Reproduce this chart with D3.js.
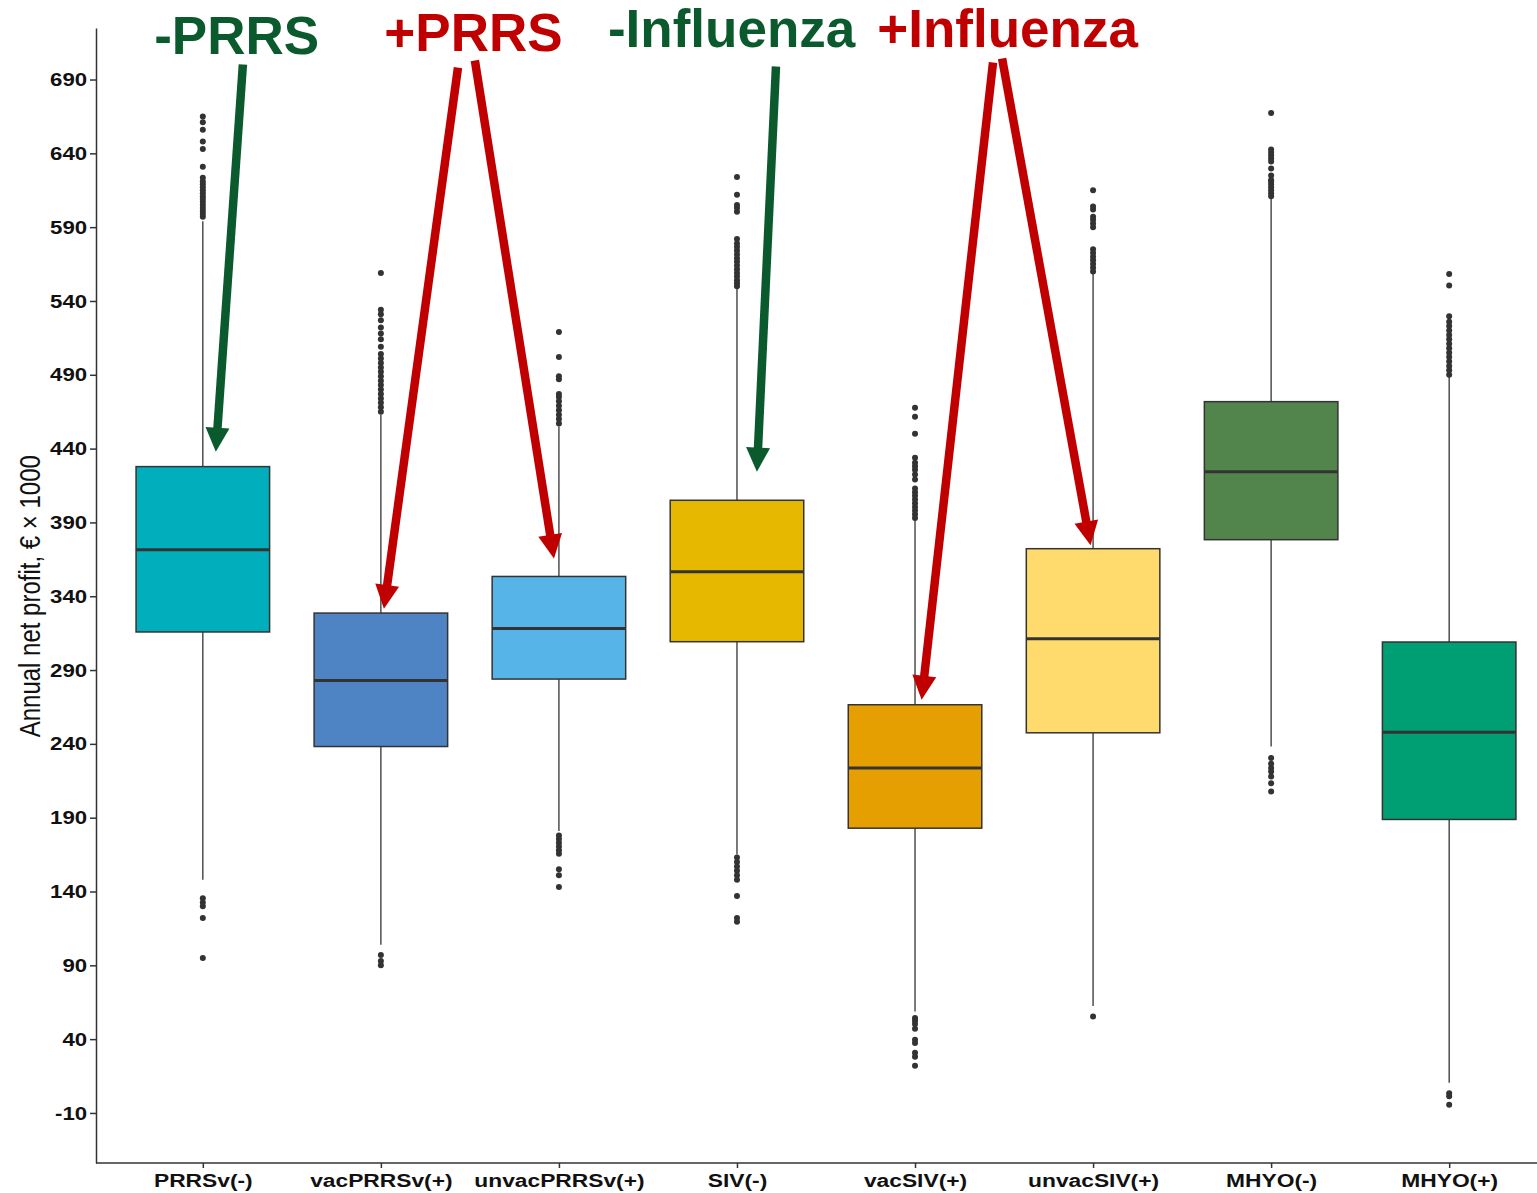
<!DOCTYPE html>
<html>
<head>
<meta charset="utf-8">
<script src="https://cdn.jsdelivr.net/npm/d3@7"></script>
<style>
  body { margin: 0; background: #fff; }
  text { font-family: "Liberation Sans", Arial, Helvetica, sans-serif; }
</style>
</head>
<body>
<div id="chart"></div>
<script>
// categories and box statistics (values in € x 1000)
const categories = ["PRRSv(-)", "vacPRRSv(+)", "unvacPRRSv(+)", "SIV(-)", "vacSIV(+)", "unvacSIV(+)", "MHYO(-)", "MHYO(+)"];
const fills = ["#00AFBB", "#4E84C4", "#56B4E9", "#E7B800", "#E69F00", "#FFDB6D", "#52854C", "#009E73"];
const q1 = [315.8, 238.2, 283.9, 309.2, 182.9, 247.5, 378.3, 188.8];
const medians = [371.5, 283.0, 318.2, 356.6, 223.6, 311.2, 424.4, 247.8];
const q3 = [427.8, 328.6, 353.4, 405.0, 266.5, 372.2, 471.8, 309.0];
const whiskerLow = [148, 104, 181, 165, 58.7, 62.5, 238.2, 10.5];
const whiskerHigh = [594, 463, 455, 549, 392, 559, 610, 489];
const outliers = [
  [597, 599, 601, 603, 605, 607, 609, 611, 613, 615, 617, 619, 621, 623.5, 631, 643, 648, 656, 661, 665, 135.5, 132.5, 130, 122, 95],
  [465, 468, 471, 474, 477, 480, 483, 486, 489, 492, 495, 498, 501, 504, 509, 514, 518, 522, 527, 531, 534, 559, 97, 93, 90],
  [457, 460, 463, 466, 469, 472, 475, 477, 487, 489, 502, 519, 178, 175.5, 173, 170.5, 168, 165.5, 155, 151, 143],
  [550, 552, 554, 556.5, 559, 561.5, 564, 566.5, 569, 571.5, 574, 576.5, 579, 582, 600.5, 603, 605, 612, 624, 163, 160, 157, 154, 151, 148, 137, 122, 119.5],
  [393, 395.5, 398, 400.5, 403, 405.5, 408, 410.5, 413, 419, 422.5, 425.7, 428, 430.5, 433.8, 450, 461.6, 467.7, 54.4, 52.5, 50.3, 47, 39.5, 37.4, 30.7, 28, 22],
  [560, 562.5, 565, 567.5, 570, 572.5, 575, 590, 592.5, 595, 597, 602, 604, 615, 55.3],
  [611, 613, 615, 617, 619, 621, 622, 625, 629.7, 634.4, 636.5, 638.5, 640.5, 642.6, 667.4, 230.4, 226.5, 223.6, 221.3, 217.9, 213.4, 207.7],
  [490, 493, 496, 499, 502, 505, 508, 511, 514, 517, 520, 523, 526, 529.6, 550.4, 558.3, 3.3, 1.3, -4.5]
];
const yTicks = d3.range(-10, 691, 50);

// annotations: position as (category index, value)
const labelTexts = ["-PRRS", "+PRRS", "-Influenza", "+Influenza"];
const labelColors = ["#0B5A2E", "#C00000", "#0B5A2E", "#C00000"];
const labelIdx = [0.19, 1.52, 2.97, 4.52];
const labelVal = [707, 709, 712, 712];
// arrows: [startIdx, startVal, tipIdx, tipVal, labelNo]
const arrows = [
  [0.225, 700.2, 0.073, 437.9, 0],
  [1.433, 698.1, 1.017, 331.5, 1],
  [1.528, 702.9, 1.972, 365.5, 1],
  [3.219, 698.8, 3.112, 424.4, 2],
  [4.438, 701.5, 4.037, 269.9, 3],
  [4.489, 704.2, 4.986, 374.5, 3]
];

const W = 1537, H = 1193;
const mLeft = 96, mBottom = 1163, mTop = 28;

const svg = d3.select("#chart").append("svg")
  .attr("width", W).attr("height", H);

const x = d3.scalePoint().domain(categories).range([mLeft, 1556]).padding(0.6);
const step = x.step();
const xi = d3.scaleLinear().domain([0, categories.length - 1]).range([x(categories[0]), x(categories[categories.length - 1])]);
const y = d3.scaleLinear().domain([-43.9, 724.9]).range([mBottom, mTop]);
const boxW = step * 0.75;

// axes
const xAxis = d3.axisBottom(x).tickSize(5).tickSizeOuter(0).tickPadding(6);
const yAxis = d3.axisLeft(y).tickValues(yTicks).tickFormat(d => String(d))
  .tickSize(6).tickSizeOuter(0).tickPadding(3);

const gx = svg.append("g").attr("transform", "translate(0," + mBottom + ")").call(xAxis);
gx.select(".domain").attr("d", "M" + mLeft + ",0H" + W);
gx.selectAll("text").attr("font-size", 19).attr("font-weight", "bold").attr("fill", "#111")
  .attr("transform", "scale(1.2,1)").attr("x", 0);

const gy = svg.append("g").attr("transform", "translate(" + mLeft + ",0)").call(yAxis);
gy.selectAll("text").attr("font-size", 19).attr("font-weight", "bold").attr("fill", "#111")
  .attr("transform", "scale(1.17,1)").attr("x", -7.6);

svg.selectAll(".domain, .tick line").attr("stroke", "#333").attr("stroke-width", 1.5);

svg.append("text")
  .attr("transform", "translate(40," + y(340) + ") scale(1.2,1) rotate(-90)")
  .attr("text-anchor", "middle")
  .attr("font-size", 24)
  .attr("fill", "#111")
  .text("Annual net profit, € × 1000");

// boxes
const boxes = svg.append("g").selectAll("g").data(categories).enter().append("g");

boxes.append("line")
  .attr("x1", d => x(d)).attr("x2", d => x(d))
  .attr("y1", (d, i) => y(whiskerHigh[i])).attr("y2", (d, i) => y(q3[i]))
  .attr("stroke", "#333").attr("stroke-width", 1.3);
boxes.append("line")
  .attr("x1", d => x(d)).attr("x2", d => x(d))
  .attr("y1", (d, i) => y(q1[i])).attr("y2", (d, i) => y(whiskerLow[i]))
  .attr("stroke", "#333").attr("stroke-width", 1.3);
boxes.append("rect")
  .attr("x", d => x(d) - boxW / 2).attr("width", boxW)
  .attr("y", (d, i) => y(q3[i])).attr("height", (d, i) => y(q1[i]) - y(q3[i]))
  .attr("fill", (d, i) => fills[i]).attr("stroke", "#333").attr("stroke-width", 1.5);
boxes.append("line")
  .attr("x1", d => x(d) - boxW / 2).attr("x2", d => x(d) + boxW / 2)
  .attr("y1", (d, i) => y(medians[i])).attr("y2", (d, i) => y(medians[i]))
  .attr("stroke", "#333").attr("stroke-width", 3);
boxes.selectAll("circle").data((d, i) => outliers[i].map(v => [d, v])).enter().append("circle")
  .attr("cx", p => x(p[0])).attr("cy", p => y(p[1])).attr("r", 3).attr("fill", "#333");

// annotation arrows
const ann = svg.append("g");
arrows.forEach(a => {
  const x0 = xi(a[0]), y0 = y(a[1]), x1 = xi(a[2]), y1 = y(a[3]);
  const col = labelColors[a[4]];
  const dx = x1 - x0, dy = y1 - y0, len = Math.hypot(dx, dy);
  const ux = dx / len, uy = dy / len;
  const headL = 24, headW = 12;
  const bx = x1 - ux * headL, by = y1 - uy * headL;
  ann.append("line")
    .attr("x1", x0).attr("y1", y0).attr("x2", bx + ux * 2).attr("y2", by + uy * 2)
    .attr("stroke", col).attr("stroke-width", 8.5);
  ann.append("path")
    .attr("d", "M" + x1 + "," + y1 + "L" + (bx - uy * headW) + "," + (by + ux * headW) + "L" + (bx + uy * headW) + "," + (by - ux * headW) + "Z")
    .attr("fill", col);
});

ann.selectAll("text").data(labelTexts).enter().append("text")
  .attr("x", (d, i) => xi(labelIdx[i])).attr("y", (d, i) => y(labelVal[i]))
  .attr("text-anchor", "middle")
  .attr("font-size", 53).attr("font-weight", "bold")
  .attr("fill", (d, i) => labelColors[i])
  .text(d => d);
</script>
</body>
</html>
